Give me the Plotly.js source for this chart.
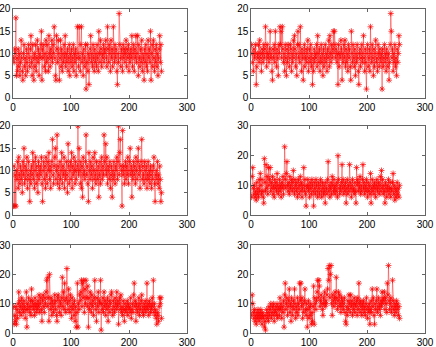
<!DOCTYPE html>
<html>
<head>
<meta charset="utf-8">
<script src="https://cdn.plot.ly/plotly-3.0.1.min.js"></script>
<style>
  html, body { margin: 0; padding: 0; background: #fff; }
  #chart { width: 436px; height: 347px; }
</style>
</head>
<body>
<div id="chart"></div>
<script>
// series values (x = 1..256)
const seriesTL = [
  9,8,11,10,18,5,9,6,11,7,10,5,8,13,9,6,
  4,10,12,7,9,5,11,8,6,10,12,9,7,11,14,8,
  5,12,9,4,10,7,12,6,9,13,8,11,5,10,9,12,
  15,4,11,9,12,7,10,6,13,8,12,9,6,14,10,7,
  11,9,13,8,12,10,16,9,5,4,14,11,8,13,10,4,
  9,13,7,11,6,10,8,12,9,14,7,10,8,11,6,9,
  12,5,10,8,11,7,9,12,6,10,8,11,5,9,16,10,
  7,16,9,6,12,16,8,10,5,11,9,7,12,2,8,12,
  6,10,3,9,11,14,8,10,7,12,9,6,11,8,10,7,
  12,9,6,15,10,8,13,11,7,10,9,12,8,11,10,13,
  9,7,16,11,8,12,10,6,13,9,11,7,16,10,8,12,
  9,11,6,3,10,8,19,12,9,7,11,10,6,12,9,11,
  8,10,13,7,11,9,12,6,10,8,11,9,14,7,10,12,
  6,11,9,14,8,10,14,5,12,9,7,11,8,13,6,10,
  9,4,11,8,12,7,10,6,13,9,11,8,15,4,10,12,
  7,13,9,6,11,8,12,7,10,5,9,11,14,8,12,6
];
const seriesTR = [
  12,10,8,6,11,9,10,12,3,7,10,9,12,8,13,10,
  9,6,11,10,8,12,9,11,16,10,7,12,9,10,8,11,
  15,9,10,6,4,11,9,12,8,15,10,7,11,9,5,12,
  10,16,12,15,9,16,11,8,10,6,12,9,5,11,8,12,
  10,7,9,12,11,6,10,8,13,9,14,11,7,10,5,12,
  15,9,12,8,16,10,6,11,9,4,10,12,7,9,11,8,
  10,13,6,9,11,8,12,7,10,3,9,6,11,8,10,9,
  12,7,14,10,8,11,6,9,12,8,10,5,11,7,9,12,
  8,10,6,11,9,13,7,14,10,8,12,9,11,15,10,15,
  12,9,11,8,10,3,12,7,10,9,13,11,4,10,8,12,
  9,13,7,11,8,10,6,12,9,11,7,4,15,10,8,12,
  9,7,11,5,10,8,12,9,6,3,10,11,7,9,12,8,
  10,14,9,6,11,8,2,10,12,7,9,11,6,16,10,8,
  12,9,5,11,7,10,13,8,9,6,12,10,7,11,9,8,
  10,2,11,7,9,12,8,10,6,11,9,7,10,4,8,12,
  19,15,9,11,6,10,8,12,7,9,5,11,8,10,14,12
];
const seriesML = [
  2,11,2,9,2,10,8,12,6,13,9,7,11,8,10,5,
  12,9,15,7,11,8,10,13,6,9,12,8,3,10,7,11,
  9,14,8,12,6,10,13,7,11,9,5,12,8,10,11,9,
  13,7,3,10,12,8,11,6,13,9,7,12,10,14,8,11,
  6,10,12,17,9,7,11,13,15,8,10,18,7,11,9,6,
  12,8,10,14,7,11,9,13,6,10,8,12,9,5,16,11,
  7,10,12,8,14,6,11,9,13,10,7,12,8,10,11,20,
  9,15,10,7,12,6,11,4,13,9,10,8,12,18,9,11,
  7,3,14,10,8,12,9,11,6,13,10,8,14,9,7,12,
  10,8,11,4,9,12,7,10,13,8,11,9,18,12,10,16,
  9,13,7,11,10,8,12,6,9,11,4,10,8,12,9,7,
  11,10,13,8,12,20,9,14,17,11,10,2,19,9,11,7,
  10,12,8,11,9,13,7,10,12,15,9,11,4,10,8,12,
  9,11,7,13,10,8,12,15,9,11,6,10,12,17,8,11,
  9,7,12,10,8,11,6,9,12,8,10,7,11,9,6,10,
  8,11,13,7,3,9,10,8,12,7,9,6,11,8,3,5
];
const seriesMR = [
  6,13,16,9,7,10,6,8,5,11,7,9,6,12,8,14,
  10,7,12,8,6,4,19,11,8,17,9,13,7,16,10,12,
  16,8,11,9,13,7,10,6,12,9,11,8,14,10,7,9,
  12,8,10,6,11,9,13,7,10,23,12,9,14,18,10,8,
  11,7,13,9,10,12,8,11,15,9,7,12,10,8,11,6,
  9,12,7,10,13,8,11,6,9,10,16,8,12,7,3,10,
  9,12,8,10,6,11,9,7,12,10,8,3,11,9,7,12,
  10,8,6,11,9,7,10,12,8,6,11,9,7,10,8,4,
  11,9,7,12,18,8,10,6,9,11,7,13,10,8,12,9,
  7,10,8,11,6,20,12,9,7,10,8,11,17,9,12,7,
  10,8,11,4,9,12,7,10,8,17,11,9,6,10,12,8,
  9,7,11,8,4,16,10,12,8,11,9,13,7,10,8,12,
  17,9,11,7,10,8,12,9,6,11,8,10,7,14,4,9,
  12,8,10,7,11,9,6,10,12,8,9,11,7,10,13,8,
  15,9,12,7,10,8,4,11,9,6,10,8,12,7,9,11,
  6,9,8,11,14,7,10,5,9,6,8,11,7,9,6,10
];
const seriesBL = [
  9,3,6,4,9,3,8,5,10,14,7,11,9,6,12,8,
  10,7,11,9,5,8,14,2,10,8,12,9,7,11,6,15,
  9,11,8,10,6,12,9,7,10,8,11,9,13,7,10,12,
  8,4,11,13,9,7,12,10,14,18,9,19,12,4,20,10,
  8,12,6,11,9,7,10,13,8,11,6,4,12,13,9,7,
  11,10,6,12,19,9,14,8,17,11,7,12,22,10,8,15,
  11,7,13,9,5,12,8,10,6,11,4,9,2,7,17,2,
  10,8,13,11,14,18,9,17,12,18,7,15,10,18,12,9,
  16,2,12,8,14,10,7,13,9,11,6,12,18,10,8,4,
  12,9,14,7,11,10,18,1,10,8,12,7,14,9,11,6,
  10,8,12,4,9,11,7,10,13,14,8,6,11,9,7,12,
  10,8,14,9,11,3,10,12,8,13,7,9,6,11,8,4,
  10,8,7,9,11,6,10,8,9,7,12,5,8,10,7,13,
  17,9,11,4,10,8,7,9,12,6,10,8,11,13,7,9,
  6,10,8,11,7,9,17,8,10,6,11,9,7,10,8,12,
  9,18,7,10,6,8,5,3,7,6,4,9,12,10,12,5
];
const seriesBR = [
  6,13,10,7,5,8,4,6,3,7,5,8,6,4,7,5,
  8,6,3,7,5,6,2,4,1,6,8,5,7,4,9,6,
  8,10,5,7,9,6,10,4,8,7,9,6,10,5,8,9,
  6,12,8,10,5,9,7,11,2,13,17,8,10,12,6,9,
  11,15,7,10,4,12,9,6,11,8,15,10,5,9,7,12,
  6,10,8,17,11,17,9,12,5,10,7,11,15,8,6,10,
  2,8,11,5,9,6,10,3,7,4,9,16,3,12,10,8,
  11,14,18,12,18,16,9,11,13,10,8,6,12,10,14,9,
  11,10,13,15,22,18,23,12,20,23,10,6,13,11,9,12,
  14,10,19,12,8,11,14,9,13,10,7,12,9,11,8,10,
  12,7,4,3,9,6,11,8,13,10,7,13,9,11,6,10,
  8,12,7,10,9,11,6,12,8,17,10,7,11,9,6,10,
  8,11,7,9,6,10,12,8,5,9,7,10,3,8,11,7,
  15,9,12,6,3,10,8,11,15,7,9,12,8,10,6,11,
  9,14,10,12,11,14,8,12,10,7,17,13,23,11,8,10,
  12,7,9,18,11,8,6,10,9,7,11,8,10,6,9,5
];

const xTicks = [0, 100, 200, 300];
const yTicksLow = [0, 5, 10, 15, 20];
const yTicksHigh = [0, 10, 20, 30];

const panels = [
  { y: seriesTL, yMax: 20, yTicks: yTicksLow },
  { y: seriesTR, yMax: 20, yTicks: yTicksLow },
  { y: seriesML, yMax: 20, yTicks: yTicksLow },
  { y: seriesMR, yMax: 30, yTicks: yTicksHigh },
  { y: seriesBL, yMax: 30, yTicks: yTicksHigh },
  { y: seriesBR, yMax: 30, yTicks: yTicksHigh }
];

// subplot boxes in paper units (MATLAB default 3x2 subplot positions)
const colDomains = [[0.0298, 0.4289], [0.5757, 0.9748]];
const rowDomains = [[0.7176, 0.9741], [0.3804, 0.6369], [0.0403, 0.2939]];

const data = [];
const layout = {
  width: 436,
  height: 347,
  margin: { l: 0, r: 0, t: 0, b: 0 },
  paper_bgcolor: '#fff',
  plot_bgcolor: '#fff',
  showlegend: false,
  font: { family: 'Liberation Sans, Arial, sans-serif', size: 10, color: '#000' }
};

panels.forEach((p, i) => {
  const n = i + 1;
  const xa = n === 1 ? 'x' : 'x' + n;
  const ya = n === 1 ? 'y' : 'y' + n;
  data.push({
    x: p.y.map((v, k) => k + 1),
    y: p.y,
    xaxis: xa,
    yaxis: ya,
    type: 'scatter',
    mode: 'lines+markers',
    line: { color: 'rgba(255,0,0,0.85)', width: 0.5 },
    marker: { symbol: 'asterisk-open', size: 5, color: 'rgb(255,0,0)', line: { color: 'rgb(255,0,0)', width: 0.7 } },
    hoverinfo: 'x+y'
  });
  const axisCommon = {
    showline: true,
    linecolor: '#222',
    linewidth: 0.7,
    mirror: 'ticks',
    ticks: 'inside',
    ticklen: 3,
    tickwidth: 0.7,
    tickcolor: '#222',
    showgrid: false,
    zeroline: false,
    automargin: false,
    tickfont: { size: 10, color: '#000' }
  };
  layout['xaxis' + (n === 1 ? '' : n)] = Object.assign({}, axisCommon, {
    domain: colDomains[i % 2],
    anchor: ya,
    range: [0, 300],
    tickvals: xTicks
  });
  layout['yaxis' + (n === 1 ? '' : n)] = Object.assign({}, axisCommon, {
    domain: rowDomains[Math.floor(i / 2)],
    anchor: xa,
    range: [0, p.yMax],
    tickvals: p.yTicks
  });
});

Plotly.newPlot('chart', data, layout, { staticPlot: true, displayModeBar: false });
</script>
</body>
</html>
